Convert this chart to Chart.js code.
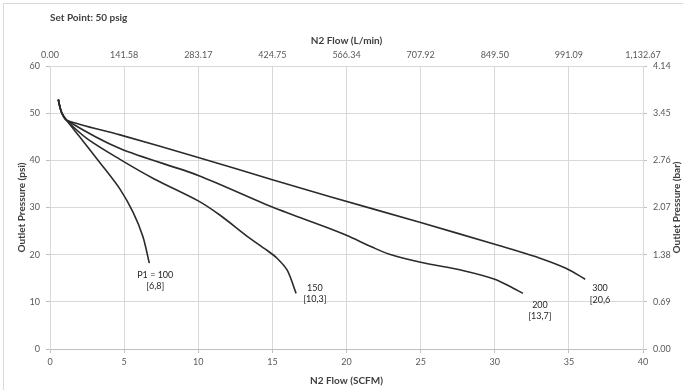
<!DOCTYPE html>
<html lang="en">
<head>
    <meta charset="UTF-8">
    <title>N2 Flow vs Outlet Pressure</title>
    <script src="https://cdn.jsdelivr.net/npm/chart.js"></script>
    <style>
        html, body { margin: 0; padding: 0; background: #fff; }
        .chart-box { position: relative; width: 683px; height: 390px; }
    </style>
</head>
<body>
    <div class="chart-box">
        <canvas id="flowChart" width="683" height="390"></canvas>
    </div>

    <script>
        // Curves (x = SCFM, y = psi)
        const flow100 = [0.56, 0.67, 0.8, 1.12, 2.0, 3.37, 4.72, 5.6, 6.27, 6.7];
        const pres100 = [52.9, 51.3, 50.0, 48.5, 45.0, 39.5, 33.9, 29.0, 23.8, 18.2];

        const flow150 = [0.56, 0.67, 0.8, 1.12, 2.5, 4.72, 7.0, 10.0, 11.5, 13.3, 14.6, 15.3, 16.0, 16.6];
        const pres150 = [52.9, 51.3, 50.0, 48.5, 44.6, 40.2, 36.1, 31.4, 28.3, 23.9, 21.0, 19.3, 16.7, 11.8];

        const flow200 = [0.56, 0.67, 0.8, 1.12, 4.72, 10.0, 15.0, 18.9, 20.0, 21.8, 22.9, 25.0, 27.9, 30.0, 31.0, 31.9];
        const pres200 = [52.9, 51.3, 50.0, 48.5, 42.5, 36.8, 30.1, 25.5, 24.1, 21.5, 20.1, 18.4, 16.6, 14.8, 13.3, 11.8];

        const flow300 = [0.56, 0.67, 0.8, 1.12, 4.72, 10.0, 15.0, 18.9, 25.0, 30.0, 33.0, 34.8, 36.1];
        const pres300 = [52.9, 51.3, 50.0, 48.5, 45.4, 40.6, 35.9, 32.3, 26.8, 22.2, 19.3, 17.1, 14.8];

        // Tick labels of the secondary axes
        const topTickLabels = ['0.00', '141.58', '283.17', '424.75', '566.34', '707.92', '849.50', '991.09', '1,132.67'];
        const rightTickLabels = ['0.00', '0.69', '1.38', '2.07', '2.76', '3.45', '4.14'];

        // Curve end labels, anchored in data units
        const curveLabels = [['P1 = 100', '[6,8]'], ['150', '[10,3]'], ['200', '[13,7]'], ['300', '[20,6']];
        const labelFlow = [7.1, 17.87, 33.05, 37.1];
        const labelPres = [15.7, 13.0, 9.4, 12.9];

        const FONT = 'Lato, "Open Sans", sans-serif';
        const GRID = '#d9d9d9';
        const AXIS = '#bfbfbf';
        const TICK_TEXT = '#595959';
        const TITLE_TEXT = '#404040';

        function toPoints(xs, ys) {
            return xs.map((x, i) => ({ x: x, y: ys[i] }));
        }

        function curve(xs, ys) {
            return {
                data: toPoints(xs, ys),
                borderColor: '#2b2b2b',
                borderWidth: 1.6,
                pointRadius: 0,
                tension: 0.3,
                fill: false,
                xAxisID: 'x',
                yAxisID: 'y'
            };
        }

        // frame, chart title, right axis title and curve labels
        const decorations = {
            id: 'decorations',
            beforeDraw(chart) {
                const c = chart.ctx;
                c.save();
                c.strokeStyle = '#d9d9d9';
                c.lineWidth = 1;
                c.strokeRect(3.5, 3.5, 720, 420);
                c.restore();
            },
            afterDatasetsDraw(chart) {
                const c = chart.ctx;
                const xs = chart.scales.x;
                const ys = chart.scales.y;
                c.save();
                c.fillStyle = TITLE_TEXT;
                c.font = 'bold 10px ' + FONT;
                c.textAlign = 'left';
                c.textBaseline = 'middle';
                c.fillText('Set Point: 50 psig', 50, 18);

                c.translate(677, (chart.chartArea.top + chart.chartArea.bottom) / 2);
                c.rotate(-Math.PI / 2);
                c.textAlign = 'center';
                c.fillText('Outlet Pressure (bar)', 0, 0);
                c.restore();

                c.save();
                c.fillStyle = '#262626';
                c.font = '9px ' + FONT;
                c.textAlign = 'center';
                c.textBaseline = 'middle';
                curveLabels.forEach((lines, i) => {
                    const px = xs.getPixelForValue(labelFlow[i]);
                    const py = ys.getPixelForValue(labelPres[i]);
                    lines.forEach((t, j) => c.fillText(t, px, py + j * 11.5));
                });
                c.restore();
            }
        };

        const tickFont = { family: FONT, size: 9 };
        const titleFont = { family: FONT, size: 10, weight: 'bold' };

        new Chart(document.getElementById('flowChart'), {
            type: 'line',
            data: {
                datasets: [
                    curve(flow100, pres100),
                    curve(flow150, pres150),
                    curve(flow200, pres200),
                    curve(flow300, pres300)
                ]
            },
            options: {
                responsive: false,
                animation: false,
                layout: { padding: 0 },
                plugins: {
                    legend: { display: false },
                    title: { display: false },
                    tooltip: { enabled: false }
                },
                scales: {
                    x: {
                        type: 'linear',
                        position: 'bottom',
                        min: 0,
                        max: 40,
                        ticks: { stepSize: 5, color: TICK_TEXT, font: tickFont, padding: 4, maxRotation: 0 },
                        grid: { color: GRID, tickLength: 4, tickColor: AXIS },
                        border: { color: AXIS },
                        title: { display: true, text: 'N2 Flow (SCFM)', color: TITLE_TEXT, font: titleFont, padding: { top: 0, bottom: 3 } },
                        afterFit(s) { s.height = 41; }
                    },
                    x2: {
                        type: 'linear',
                        position: 'top',
                        min: 0,
                        max: 40,
                        ticks: {
                            stepSize: 5, color: TICK_TEXT, font: tickFont, padding: 6, maxRotation: 0,
                            callback: (v, i) => topTickLabels[i]
                        },
                        grid: { drawOnChartArea: false, drawTicks: false },
                        border: { display: false },
                        title: { display: true, text: 'N2 Flow (L/min)', color: TITLE_TEXT, font: titleFont, padding: { top: 35, bottom: 0 } },
                        afterFit(s) { s.height = 66; }
                    },
                    y: {
                        type: 'linear',
                        position: 'left',
                        min: 0,
                        max: 60,
                        ticks: { stepSize: 10, color: TICK_TEXT, font: tickFont, padding: 6 },
                        grid: { color: GRID, tickLength: 4, tickColor: AXIS },
                        border: { color: GRID },
                        title: { display: true, text: 'Outlet Pressure (psi)', color: TITLE_TEXT, font: titleFont, padding: { top: 16, bottom: 0 } },
                        afterFit(s) { s.width = 50; }
                    },
                    y2: {
                        type: 'linear',
                        position: 'right',
                        min: 0,
                        max: 60,
                        ticks: {
                            stepSize: 10, color: TICK_TEXT, font: tickFont, padding: 6,
                            callback: (v, i) => rightTickLabels[i]
                        },
                        grid: { drawOnChartArea: false, tickLength: 4, tickColor: AXIS },
                        border: { color: GRID },
                        afterFit(s) { s.width = 40; }
                    }
                }
            },
            plugins: [decorations]
        });
    </script>
</body>
</html>
